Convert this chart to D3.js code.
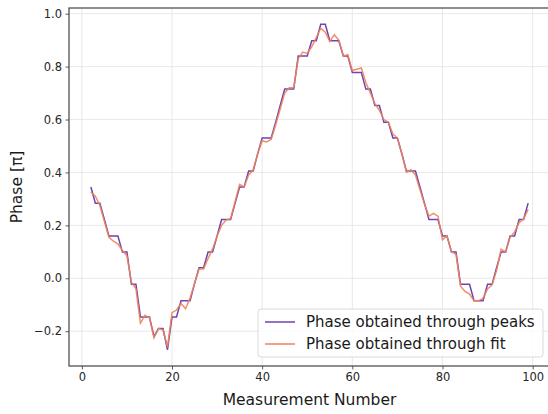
<!DOCTYPE html>
<html>
<head>
<meta charset="utf-8">
<script src="https://cdn.jsdelivr.net/npm/d3@7"></script>
<style>
  body { margin: 0; background: #fff; }
  svg { font-family: "DejaVu Sans", sans-serif; display: block; }
</style>
</head>
<body>
<svg></svg>
<script>
let measurement = d3.range(2, 100);

let phasePeaks = [
  0.345, 0.284, 0.284, 0.222, 0.16, 0.16, 0.16, 0.099, 0.099, -0.023,
  -0.023, -0.146, -0.146, -0.146, -0.22, -0.19, -0.19, -0.27, -0.146, -0.146,
  -0.085, -0.085, -0.085, -0.02, 0.04, 0.04, 0.099, 0.099, 0.16, 0.222,
  0.222, 0.222, 0.284, 0.345, 0.345, 0.405, 0.405, 0.47, 0.53, 0.53,
  0.53, 0.59, 0.653, 0.715, 0.715, 0.715, 0.84, 0.84, 0.84, 0.898,
  0.898, 0.96, 0.96, 0.898, 0.898, 0.898, 0.84, 0.84, 0.778, 0.778,
  0.778, 0.715, 0.715, 0.653, 0.653, 0.59, 0.59, 0.53, 0.53, 0.47,
  0.405, 0.405, 0.405, 0.345, 0.284, 0.222, 0.222, 0.222, 0.16, 0.16,
  0.099, 0.099, -0.023, -0.023, -0.023, -0.085, -0.085, -0.085, -0.023, -0.023,
  0.04, 0.099, 0.099, 0.16, 0.16, 0.222, 0.222, 0.284
];

let phaseFit = [
  0.325, 0.31, 0.275, 0.215, 0.155, 0.14, 0.13, 0.105, 0.085, -0.015,
  -0.04, -0.17, -0.14, -0.15, -0.225, -0.19, -0.195, -0.26, -0.13, -0.12,
  -0.095, -0.115, -0.075, -0.02, 0.035, 0.035, 0.075, 0.11, 0.16, 0.2,
  0.22, 0.225, 0.29, 0.355, 0.345, 0.39, 0.41, 0.47, 0.52, 0.515,
  0.525, 0.58, 0.64, 0.7, 0.72, 0.72, 0.83, 0.855, 0.85, 0.875,
  0.91, 0.945, 0.93, 0.895, 0.92, 0.9, 0.84, 0.845, 0.785, 0.79,
  0.795, 0.74, 0.7, 0.66, 0.635, 0.6, 0.59, 0.545, 0.53, 0.47,
  0.4, 0.41, 0.39, 0.335, 0.28, 0.235, 0.245, 0.235, 0.145, 0.16,
  0.1, 0.09, -0.03, -0.05, -0.06, -0.085, -0.085, -0.075, -0.04, -0.025,
  0.03, 0.11, 0.1, 0.155, 0.175, 0.21, 0.225, 0.26
];

let xTicks = [0, 20, 40, 60, 80, 100];
let yTicks = [-0.2, 0.0, 0.2, 0.4, 0.6, 0.8, 1.0];
let seriesNames = ["Phase obtained through peaks", "Phase obtained through fit"];
let seriesColors = ["#6f42b5", "#ee8357"];

let width = 548;
let height = 414;
let plotLeft = 69;
let plotRight = 550;
let plotTop = 8;
let plotBottom = 366;

let svg = d3.select("svg").attr("width", width).attr("height", height);

let xScale = d3.scaleLinear().domain([-2.85, 103.85]).range([plotLeft, plotRight]);
let yScale = d3.scaleLinear().domain([-0.3315, 1.0215]).range([plotBottom, plotTop]);

// grid
svg.append("g")
  .selectAll("line")
  .data(xTicks)
  .enter()
  .append("line")
  .attr("x1", (d) => xScale(d))
  .attr("x2", (d) => xScale(d))
  .attr("y1", plotTop)
  .attr("y2", plotBottom)
  .attr("stroke", "#e3e3e3")
  .attr("stroke-width", 0.8);

svg.append("g")
  .selectAll("line")
  .data(yTicks)
  .enter()
  .append("line")
  .attr("x1", plotLeft)
  .attr("x2", plotRight)
  .attr("y1", (d) => yScale(d))
  .attr("y2", (d) => yScale(d))
  .attr("stroke", "#e3e3e3")
  .attr("stroke-width", 0.8);

// lines
let line = (vals) =>
  d3.line()
    .x((d, i) => xScale(measurement[i]))
    .y((d) => yScale(d))(vals);

svg.append("path")
  .attr("d", line(phasePeaks))
  .attr("fill", "none")
  .attr("stroke", seriesColors[0])
  .attr("stroke-width", 1.5);

svg.append("path")
  .attr("d", line(phaseFit))
  .attr("fill", "none")
  .attr("stroke", seriesColors[1])
  .attr("stroke-width", 1.5)
  .attr("stroke-opacity", 0.9);

// axes
let xAxis = d3.axisBottom(xScale).tickValues(xTicks).tickSize(3.5).tickPadding(3.5)
  .tickFormat(d3.format("d"));
let yAxis = d3.axisLeft(yScale).tickValues(yTicks).tickSize(3.5).tickPadding(3.5)
  .tickFormat((d) => d3.format(".1f")(d).replace("-", "\u2212"));

let gx = svg.append("g")
  .attr("transform", `translate(0, ${plotBottom})`)
  .call(xAxis);
let gy = svg.append("g")
  .attr("transform", `translate(${plotLeft}, 0)`)
  .call(yAxis);

[gx, gy].forEach((g) => {
  g.select(".domain").remove();
  g.selectAll(".tick line").attr("stroke", "#333").attr("stroke-width", 0.8);
  g.selectAll(".tick text").attr("fill", "#262626").style("font-size", "11.5px")
    .style("font-family", "DejaVu Sans");
});

// spines
svg.append("rect")
  .attr("x", plotLeft)
  .attr("y", plotTop)
  .attr("width", plotRight - plotLeft)
  .attr("height", plotBottom - plotTop)
  .attr("fill", "none")
  .attr("stroke", "#444")
  .attr("stroke-width", 1.2);

// labels
svg.append("text")
  .attr("x", (plotLeft + plotRight) / 2)
  .attr("y", 405)
  .style("text-anchor", "middle")
  .style("font-size", "15.5px")
  .attr("fill", "#1a1a1a")
  .text("Measurement Number");

svg.append("text")
  .attr("transform", `translate(22, ${(plotTop + plotBottom) / 2}) rotate(-90)`)
  .style("text-anchor", "middle")
  .style("font-size", "15.5px")
  .attr("fill", "#1a1a1a")
  .text("Phase [π]");

// legend
let legend = svg.append("g");
legend.append("rect")
  .attr("x", 258)
  .attr("y", 309)
  .attr("width", 285)
  .attr("height", 48)
  .attr("rx", 3)
  .attr("fill", "#fff")
  .attr("fill-opacity", 0.8)
  .attr("stroke", "#d0d0d0")
  .attr("stroke-width", 0.8);

seriesNames.forEach((name, i) => {
  let y = 322 + i * 22;
  legend.append("line")
    .attr("x1", 265)
    .attr("x2", 295)
    .attr("y1", y)
    .attr("y2", y)
    .attr("stroke", seriesColors[i])
    .attr("stroke-width", 1.5);
  legend.append("text")
    .attr("x", 306)
    .attr("y", y + 5)
    .style("font-size", "15px")
    .attr("fill", "#1a1a1a")
    .text(name);
});
</script>
</body>
</html>
